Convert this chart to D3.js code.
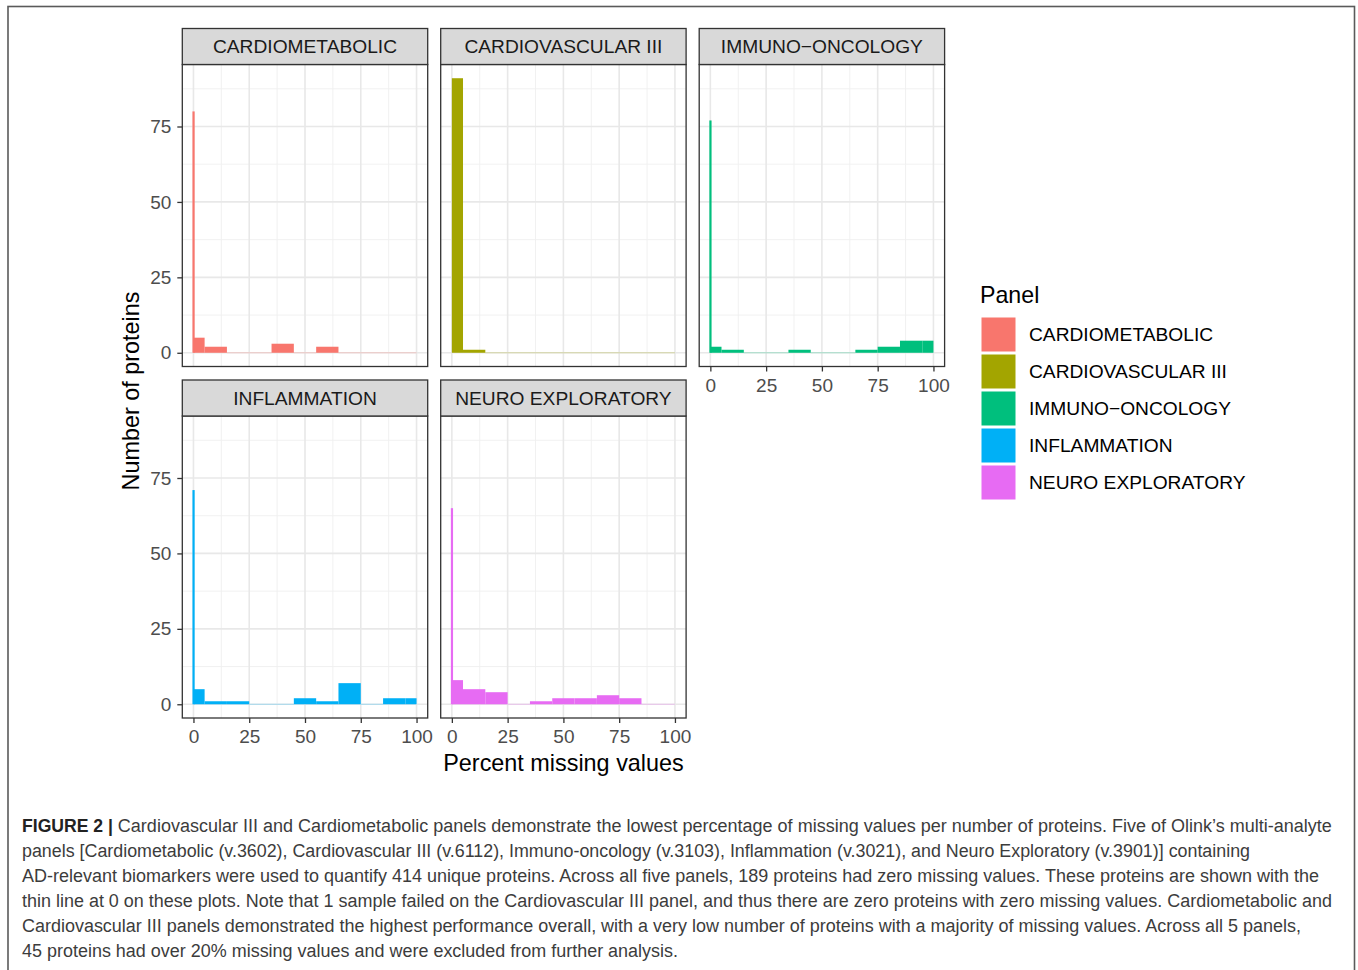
<!DOCTYPE html>
<html>
<head>
<meta charset="utf-8">
<script src="https://cdn.jsdelivr.net/npm/d3@7"></script>
<style>
  html, body { margin: 0; padding: 0; background: #fff; }
  svg { display: block; font-family: "Liberation Sans", Arial, Helvetica, sans-serif; }
</style>
</head>
<body>
<svg id="chart" width="1358" height="970"></svg>
<script>
// Histogram of percent missing values per protein, one facet per Olink panel.
const panels = ["CARDIOMETABOLIC", "CARDIOVASCULAR III", "IMMUNO\u2212ONCOLOGY", "INFLAMMATION", "NEURO EXPLORATORY"];
const panelColors = ["#F8766D", "#A3A500", "#00BF7D", "#00B0F6", "#E76BF3"];

// Bin edges (percent missing) shared by all panels
const binEdges = [0, 5, 15, 25, 35, 45, 55, 65, 75, 85, 95, 100];

// Proteins with exactly zero missing values (thin line at 0)
const zeroCounts = [80, 0, 77, 71, 65];

// Counts per bin for proteins with some missing values
const cardiometabolicCounts   = [5, 2, 0, 0, 3, 0, 2, 0, 0, 0, 0];
const cardiovascularCounts    = [91, 1, 0, 0, 0, 0, 0, 0, 0, 0, 0];
const immunoOncologyCounts    = [2, 1, 0, 0, 1, 0, 0, 1, 2, 4, 4];
const inflammationCounts      = [5, 1, 1, 0, 0, 2, 1, 7, 0, 2, 2];
const neuroExploratoryCounts  = [8, 5, 4, 0, 1, 2, 2, 3, 2, 0, 0];
const binCounts = [cardiometabolicCounts, cardiovascularCounts, immunoOncologyCounts,
                   inflammationCounts, neuroExploratoryCounts];

const xTicks = [0, 25, 50, 75, 100];
const yTicks = [0, 25, 50, 75];
const xMinor = [12.5, 37.5, 62.5, 87.5];
const yMinor = [12.5, 37.5, 62.5, 87.5];

const captionLines = [
  "Cardiovascular III and Cardiometabolic panels demonstrate the lowest percentage of missing values per number of proteins. Five of Olink\u2019s multi-analyte",
  "panels [Cardiometabolic (v.3602), Cardiovascular III (v.6112), Immuno-oncology (v.3103), Inflammation (v.3021), and Neuro Exploratory (v.3901)] containing",
  "AD-relevant biomarkers were used to quantify 414 unique proteins. Across all five panels, 189 proteins had zero missing values. These proteins are shown with the",
  "thin line at 0 on these plots. Note that 1 sample failed on the Cardiovascular III panel, and thus there are zero proteins with zero missing values. Cardiometabolic and",
  "Cardiovascular III panels demonstrated the highest performance overall, with a very low number of proteins with a majority of missing values. Across all 5 panels,",
  "45 proteins had over 20% missing values and were excluded from further analysis."
];
const captionWidths = [1214, 1228, 1297, 1310, 1279, 656];

const svg = d3.select("#chart");

// outer frame of the figure
svg.append("rect")
  .attr("x", 8).attr("y", 6.5).attr("width", 1346.5).attr("height", 990)
  .attr("fill", "none").attr("stroke", "#5a5a5a").attr("stroke-width", 1.6);

// facet geometry
const colLeft = [182.3, 440.7, 699.2];
const rowTop = [64.5, 416];
const pw = 245.4, ph = 302, stripH = 36;

const yMax = d3.max([d3.max(zeroCounts), d3.max(binCounts.flat())]);
const x = d3.scaleLinear().domain([-5, 105]).range([0, pw]);
const y = d3.scaleLinear().domain([-0.05 * yMax, yMax * 1.05]).range([ph, 0]);

const layout = [
  { row: 0, col: 0, yAxis: true,  xAxis: false },
  { row: 0, col: 1, yAxis: false, xAxis: false },
  { row: 0, col: 2, yAxis: false, xAxis: true  },
  { row: 1, col: 0, yAxis: true,  xAxis: true  },
  { row: 1, col: 1, yAxis: false, xAxis: true  }
];

const fontStack = "\"Liberation Sans\", Arial, sans-serif";

panels.forEach((name, i) => {
  const L = layout[i];
  const g = svg.append("g")
    .attr("transform", `translate(${colLeft[L.col]},${rowTop[L.row]})`);

  g.append("rect").attr("width", pw).attr("height", ph).attr("fill", "#fff");

  // grid
  const grid = g.append("g");
  grid.selectAll(".vminor").data(xMinor).join("line")
    .attr("x1", d => x(d)).attr("x2", d => x(d)).attr("y1", 0).attr("y2", ph)
    .attr("stroke", "#efefef").attr("stroke-width", 0.9);
  grid.selectAll(".hminor").data(yMinor).join("line")
    .attr("y1", d => y(d)).attr("y2", d => y(d)).attr("x1", 0).attr("x2", pw)
    .attr("stroke", "#efefef").attr("stroke-width", 0.9);
  grid.selectAll(".vmajor").data(xTicks).join("line")
    .attr("x1", d => x(d)).attr("x2", d => x(d)).attr("y1", 0).attr("y2", ph)
    .attr("stroke", "#e8e8e8").attr("stroke-width", 1.6);
  grid.selectAll(".hmajor").data(yTicks).join("line")
    .attr("y1", d => y(d)).attr("y2", d => y(d)).attr("x1", 0).attr("x2", pw)
    .attr("stroke", "#e8e8e8").attr("stroke-width", 1.6);

  // histogram bins
  const bins = binCounts[i].map((c, k) => ({ x0: binEdges[k], x1: binEdges[k + 1], n: c }));
  g.selectAll(".bar").data(bins).join("rect")
    .attr("x", d => x(d.x0))
    .attr("width", d => x(d.x1) - x(d.x0))
    .attr("y", d => d.n > 0 ? y(d.n) : y(0) - 0.5)
    .attr("height", d => d.n > 0 ? y(0) - y(d.n) : 1)
    .attr("fill", panelColors[i])
    .attr("fill-opacity", d => d.n > 0 ? 1 : 0.3);

  // thin line for proteins with zero missing values
  if (zeroCounts[i] > 0) {
    g.append("rect")
      .attr("x", x(0) - 1)
      .attr("width", 2.2)
      .attr("y", y(zeroCounts[i]))
      .attr("height", y(0) - y(zeroCounts[i]))
      .attr("fill", panelColors[i]);
  }

  // panel border
  g.append("rect").attr("width", pw).attr("height", ph)
    .attr("fill", "none").attr("stroke", "#333").attr("stroke-width", 1.3);

  // strip
  g.append("rect").attr("x", 0).attr("y", -stripH).attr("width", pw).attr("height", stripH)
    .attr("fill", "#d9d9d9").attr("stroke", "#333").attr("stroke-width", 1.3);
  g.append("text").attr("x", pw / 2).attr("y", -stripH / 2).attr("dy", "0.36em")
    .attr("text-anchor", "middle").attr("font-size", 19.2).attr("fill", "#1a1a1a")
    .text(name);

  if (L.yAxis) {
    const ya = g.append("g").call(d3.axisLeft(y).tickValues(yTicks).tickSize(5).tickPadding(6));
    ya.select(".domain").remove();
    ya.selectAll("line").attr("stroke", "#333").attr("stroke-width", 1.3);
    ya.selectAll("text").attr("font-size", 19).attr("fill", "#4d4d4d")
      .attr("font-family", fontStack);
  }
  if (L.xAxis) {
    const xa = g.append("g").attr("transform", `translate(0,${ph})`)
      .call(d3.axisBottom(x).tickValues(xTicks).tickSize(5).tickPadding(7));
    xa.select(".domain").remove();
    xa.selectAll("line").attr("stroke", "#333").attr("stroke-width", 1.3);
    xa.selectAll("text").attr("font-size", 19).attr("fill", "#4d4d4d")
      .attr("font-family", fontStack);
  }
});

// axis titles
svg.append("text")
  .attr("transform", `translate(139,391) rotate(-90)`)
  .attr("text-anchor", "middle").attr("font-size", 23.4).attr("fill", "#000")
  .text("Number of proteins");
svg.append("text")
  .attr("x", 563.5).attr("y", 771)
  .attr("text-anchor", "middle").attr("font-size", 23.4).attr("fill", "#000")
  .text("Percent missing values");

// legend
const legend = svg.append("g").attr("transform", "translate(981.5,317.5)");
legend.append("text").attr("x", -1.5).attr("y", -15).attr("font-size", 23.2).attr("fill", "#000")
  .text("Panel");
const items = legend.selectAll(".item").data(panels).join("g")
  .attr("transform", (d, k) => `translate(0,${k * 37})`);
items.append("rect").attr("width", 34).attr("height", 34)
  .attr("fill", (d, k) => panelColors[k]);
items.append("text").attr("x", 47.5).attr("y", 17).attr("dy", "0.36em")
  .attr("font-size", 19.2).attr("fill", "#000").text(d => d);

// caption
const cap = svg.append("g").attr("font-size", 17.6).attr("fill", "#3c3c3c");
captionLines.forEach((line, k) => {
  if (k === 0) {
    const t = cap.append("text").attr("x", 22).attr("y", 832);
    t.append("tspan").attr("font-weight", "bold").attr("fill", "#222").text("FIGURE 2 | ");
    t.append("tspan").attr("textLength", captionWidths[0])
      .attr("lengthAdjust", "spacingAndGlyphs").text(line);
  } else {
    cap.append("text").attr("x", 22).attr("y", 832 + k * 25)
      .attr("textLength", captionWidths[k]).attr("lengthAdjust", "spacingAndGlyphs")
      .text(line);
  }
});
</script>
</body>
</html>
